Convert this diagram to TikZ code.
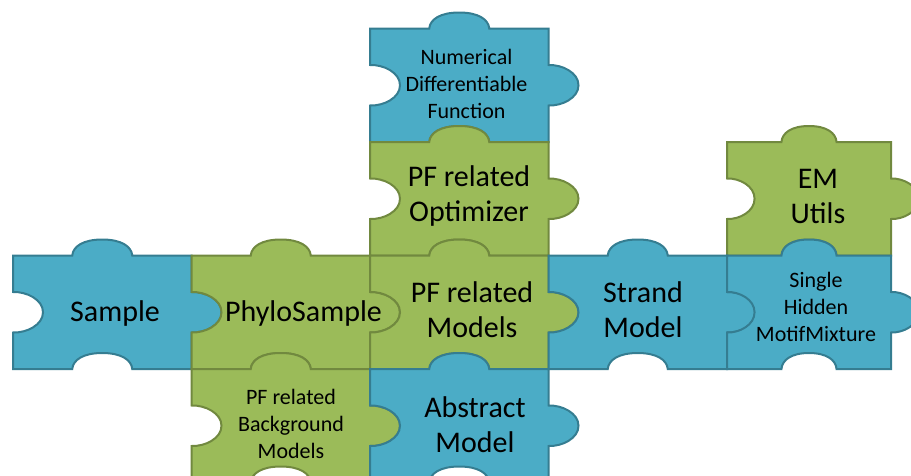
\documentclass[tikz,border=0pt]{standalone}
\usepackage{fontspec}
\setmainfont{Carlito}
\usepackage{tikz}
\usetikzlibrary{positioning}
\definecolor{pieceblue}{HTML}{4BACC6}
\definecolor{pieceblueline}{HTML}{357D91}
\definecolor{piecegreen}{HTML}{9BBB59}
\definecolor{piecegreenline}{HTML}{71893F}
\tikzset{
  bluepiece/.style={fill=pieceblue,draw=pieceblueline,line width=2pt},
  greenpiece/.style={fill=piecegreen,draw=piecegreenline,line width=2pt},
  bigtext/.style={align=center,font=\fontsize{30}{35}\selectfont},
  smalltext/.style={align=center,font=\fontsize{22}{27}\selectfont}
}
\newcommand{\puzzle}[4]{%
\begin{scope}[shift={(#1,#2)},xscale={#3/178.5}]
\draw[#4] (0,0) -- (59.25,0)
  .. controls (60,-9) and (70,-16) .. (89.25,-16)
  .. controls (108.5,-16) and (118.5,-9) .. (119.25,0)
  -- (178.5,0) -- (178.5,36.5)
  .. controls (192,36) and (208.5,44) .. (208.5,56.75)
  .. controls (208.5,69.5) and (192,77.5) .. (178.5,77)
  -- (178.5,113.5) -- (119.25,113.5)
  .. controls (118.5,104.5) and (108.5,97.5) .. (89.25,97.5)
  .. controls (70,97.5) and (60,104.5) .. (59.25,113.5)
  -- (0,113.5) -- (0,77)
  .. controls (13.5,77.5) and (30,69.5) .. (30,56.75)
  .. controls (30,44) and (13.5,36) .. (0,36.5) -- cycle;
\end{scope}}

\begin{document}
\begin{tikzpicture}[x=1pt,y=-1pt]
\useasboundingbox (0,0) rectangle (911,475);
\clip (0,0) rectangle (911,475);

\puzzle{370}{28.5}{178.5}{bluepiece}
\puzzle{370}{142}{178.5}{greenpiece}
\puzzle{727}{142}{164}{greenpiece}
\puzzle{13}{255.5}{178.5}{bluepiece}
\puzzle{191.5}{255.5}{178.5}{greenpiece}
\puzzle{370}{255.5}{178.5}{greenpiece}
\puzzle{548.5}{255.5}{178.5}{bluepiece}
\puzzle{727}{255.5}{164}{bluepiece}
\puzzle{191.5}{369}{178.5}{greenpiece}
\puzzle{370}{369}{178.5}{bluepiece}

\node[smalltext] (num) at (466.5,84) {Numerical\\Differentiable\\Function};
\node[bigtext] (opt) at (469,196) {PF related\\Optimizer};
\node[bigtext] (emutils) at (818,196.5) {EM\\Utils};
\node[bigtext] (sample) at (115,313.5) {Sample};
\node[bigtext] (phylo) at (303.5,313.5) {PhyloSample};
\node[bigtext] (models) at (472,309.5) {PF related\\Models};
\node[bigtext] (strand) at (643,309.5) {Strand\\Model};
\node[smalltext] (single) at (816,307) {Single\\Hidden\\MotifMixture};
\node[smalltext] (background) at (291,423.5) {PF related\\Background\\Models};
\node[bigtext] (abstract) at (475,424.5) {Abstract\\Model};

\end{tikzpicture}
\end{document}
